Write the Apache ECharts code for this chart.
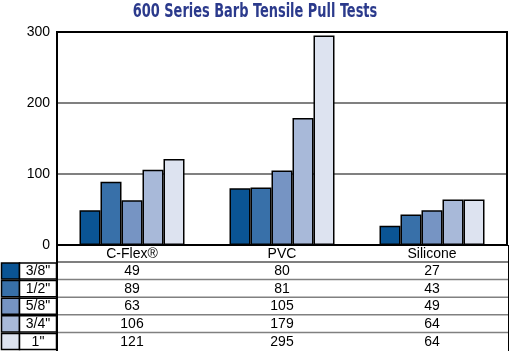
<!DOCTYPE html>
<html>
<head>
<meta charset="utf-8">
<script src="https://cdn.jsdelivr.net/npm/echarts@6/dist/echarts.min.js"></script>
<style>
  html, body { margin: 0; padding: 0; background: #fff; }
  #chart { width: 510px; height: 351px; }
</style>
</head>
<body>
<div id="chart"></div>
<script>
// data
const categories = ['C-Flex®', 'PVC', 'Silicone']
const sizes = ['3/8"', '1/2"', '5/8"', '3/4"', '1"']
const size38 = [49, 80, 27]
const size12 = [89, 81, 43]
const size58 = [63, 105, 49]
const size34 = [106, 179, 64]
const size1 = [121, 295, 64]
const yTicks = [0, 100, 200, 300]

const values = [size38, size12, size58, size34, size1]
const colors = ['#0a5494', '#3870a9', '#7694c3', '#a8b9d9', '#dde3f0']

const chart = echarts.init(document.getElementById('chart'), null, { renderer: 'canvas' })

const gridTop = 32
const gridBottom = 245
const gridLeft = 57
const gridRight = 507
const rowH = 17.6
const headerH = 17

const font = 'Liberation Sans, Arial, sans-serif'

const option = {
  animation: false,
  backgroundColor: '#fff',
  grid: {
    left: gridLeft, top: gridTop, right: 510 - gridRight, bottom: 351 - gridBottom,
    show: false
  },
  xAxis: {
    type: 'category',
    data: categories,
    axisTick: { show: false },
    axisLine: { lineStyle: { color: '#000', width: 2 } },
    axisLabel: { color: '#000', fontFamily: font, fontSize: 14, margin: 2 }
  },
  yAxis: {
    type: 'value',
    min: yTicks[0], max: yTicks[yTicks.length - 1], interval: 100,
    axisLine: { show: true, lineStyle: { color: '#000', width: 2 } },
    axisTick: { show: false },
    axisLabel: { color: '#000', fontFamily: font, fontSize: 14, margin: 7 },
    splitLine: { lineStyle: { color: '#808080', width: 2 } }
  },
  series: sizes.map((s, i) => ({
    name: s,
    type: 'bar',
    data: values[i],
    barGap: '0%',
    barCategoryGap: '30%',
    itemStyle: { color: colors[i], borderColor: '#000', borderWidth: 1.5 }
  }))
}
chart.setOption(option)

const g = []
// plot frame
g.push({ type: 'rect', shape: { x: gridLeft, y: gridTop, width: gridRight - gridLeft, height: gridBottom - gridTop }, style: { fill: null, stroke: '#000', lineWidth: 2 }, z: 12, silent: true })

// data table under the plot, built from the same arrays
const tableTop = gridBottom + headerH
g.push({ type: 'line', shape: { x1: gridLeft, y1: tableTop, x2: 509, y2: tableTop }, style: { stroke: '#555', lineWidth: 1.5 }, z: 10 })
sizes.forEach((s, r) => {
  const y = tableTop + r * rowH
  if (r > 0) {
    g.push({ type: 'line', shape: { x1: gridLeft, y1: y, x2: 509, y2: y }, style: { stroke: '#808080', lineWidth: 1.5 }, z: 10 })
  }
  // colour swatch and label cell
  g.push({ type: 'rect', shape: { x: 1.5, y: y + 1, width: 18, height: rowH - 1.5 }, style: { fill: colors[r], stroke: '#000', lineWidth: 1.5 }, z: 10 })
  g.push({ type: 'rect', shape: { x: 19.5, y: y + 1, width: gridLeft - 20, height: rowH - 1.5 }, style: { fill: '#fff', stroke: '#000', lineWidth: 1.5 }, z: 10 })
  g.push({ type: 'text', x: 38, y: y + rowH / 2 + 0.5, style: { text: s, font: '14px ' + font, fill: '#000', align: 'center', verticalAlign: 'middle' }, z: 11 })
  categories.forEach((c, ci) => {
    const cx = chart.convertToPixel({ xAxisIndex: 0 }, c)
    g.push({ type: 'text', x: cx, y: y + rowH / 2 + 0.5, style: { text: String(values[r][ci]), font: '14px ' + font, fill: '#000', align: 'center', verticalAlign: 'middle' }, z: 11 })
  })
})
g.push({ type: 'line', shape: { x1: gridLeft, y1: gridBottom, x2: gridLeft, y2: 351 }, style: { stroke: '#000', lineWidth: 2 }, z: 12 })
g.push({ type: 'line', shape: { x1: 508.5, y1: gridBottom, x2: 508.5, y2: 351 }, style: { stroke: '#000', lineWidth: 1 }, z: 12 })
// title
g.push({
  type: 'text', x: 255, y: 12, scaleX: 0.72,
  style: { text: '600 Series Barb Tensile Pull Tests', font: 'bold 20px DejaVu Sans Condensed, DejaVu Sans, sans-serif', fill: '#2b3a8c', align: 'center', verticalAlign: 'middle' }
})
chart.setOption({ graphic: g })
</script>
</body>
</html>
